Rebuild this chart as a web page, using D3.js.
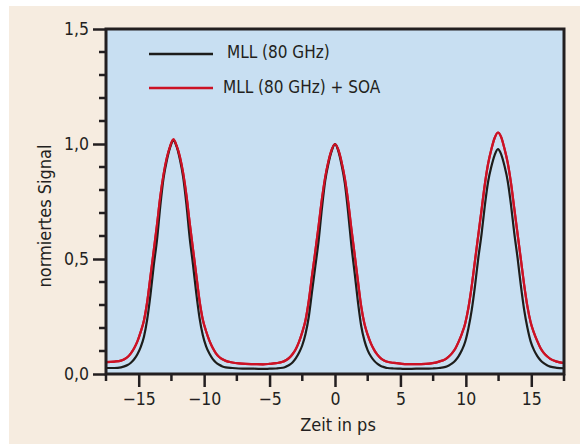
<!DOCTYPE html>
<html><head><meta charset="utf-8">
<script src="https://cdn.jsdelivr.net/npm/d3@7"></script>
<style>
html,body{margin:0;padding:0;background:#fff;}
svg text{font-family:"Liberation Sans Narrow","DejaVu Sans Condensed","Arial Narrow",sans-serif;fill:#231f20;}
</style></head>
<body>
<svg id="chart" width="580" height="444"></svg>
<script>
// ---- data ----
const seriesNames = ["MLL (80 GHz)", "MLL (80 GHz) + SOA"];
const xTicks = [-15, -10, -5, 0, 5, 10, 15];
const yTicks = [0, 0.5, 1.0, 1.5];
const yTickLabels = ["0,0", "0,5", "1,0", "1,5"];
const xLabel = "Zeit in ps";
const yLabel = "normiertes Signal";

const time = [
 -17.5,-16.85,-16.35,-16.1,-15.85,-15.6,-15.35,-15.1,-14.85,-14.6,-14.35,-14.1,-13.85,-13.6,-13.35,-13.1,-12.85,-12.6,-12.35,-12.1,-11.85,-11.6,-11.35,-11.1,-10.85,-10.6,-10.35,-10.1,-9.85,-9.6,-9.35,-9.1,-8.85,-8.6,-8.35,-7.85,-7.35,-6.85,
 -6.2,
 -5.5,-5,-4.5,-4,-3.75,-3.5,-3.25,-3,-2.75,-2.5,-2.25,-2,-1.75,-1.5,-1.25,-1,-0.75,-0.5,-0.25,0,0.25,0.5,0.75,1,1.25,1.5,1.75,2,2.25,2.5,2.75,3,3.25,3.5,3.75,4,4.5,5,5.5,
 6.2,
 6.95,7.45,7.95,8.45,8.7,8.95,9.2,9.45,9.7,9.95,10.2,10.45,10.7,10.95,11.2,11.45,11.7,11.95,12.2,12.45,12.7,12.95,13.2,13.45,13.7,13.95,14.2,14.45,14.7,14.95,15.2,15.45,15.7,15.95,16.2,16.45,16.95,17.5
];
const mll = [
 .026,.026,.029,.033,.039,.049,.064,.086,.117,.162,.238,.345,.472,.584,.731,.853,.929,.985,1.015,.988,.932,.855,.735,.59,.475,.35,.243,.168,.12,.089,.066,.05,.04,.033,.029,.026,.024,.023,
 .023,
 .022,.023,.024,.027,.032,.039,.05,.068,.092,.125,.175,.25,.36,.47,.58,.72,.84,.915,.97,1.0,.97,.91,.83,.705,.56,.44,.315,.21,.145,.103,.076,.057,.044,.035,.03,.026,.024,.023,.022,
 .023,
 .023,.024,.026,.031,.037,.046,.059,.078,.104,.14,.2,.279,.383,.504,.608,.732,.836,.902,.952,.978,.955,.905,.838,.735,.612,.506,.386,.281,.202,.142,.105,.079,.06,.047,.038,.032,.027,.025
];
const mllSoa = [
 .052,.054,.058,.064,.074,.09,.112,.142,.183,.233,.314,.425,.537,.65,.772,.868,.94,.99,1.02,.992,.944,.872,.775,.655,.542,.43,.318,.236,.186,.145,.114,.09,.074,.064,.057,.05,.046,.044,
 .043,
 .042,.044,.047,.053,.06,.07,.086,.108,.14,.182,.235,.32,.43,.535,.645,.76,.855,.925,.975,1.0,.975,.922,.85,.752,.632,.52,.405,.295,.218,.17,.132,.104,.083,.068,.059,.053,.048,.045,.043,
 .043,
 .044,.047,.054,.065,.076,.091,.111,.141,.176,.22,.289,.383,.494,.604,.714,.824,.914,.977,1.026,1.05,1.03,.98,.918,.83,.72,.61,.5,.39,.295,.225,.18,.144,.113,.092,.077,.066,.054,.047
];

// ---- layout ----
const svg = d3.select("#chart");
const W = 580, H = 444;
const m = {left:106, right:564, top:29, bottom:374};

svg.append("rect").attr("x",9).attr("y",6).attr("width",W-9).attr("height",H-6).attr("fill","#f6ece0");
svg.append("rect").attr("x",m.left).attr("y",m.top).attr("width",m.right-m.left).attr("height",m.bottom-m.top).attr("fill","#c8dff2");

const x = d3.scaleLinear().domain([-17.5, 17.5]).range([m.left, m.right]);
const y = d3.scaleLinear().domain([0, 1.5]).range([m.bottom, m.top]);

const tickColor = "#231f20";

// minor ticks
const xMinor = d3.range(-17.5, 17.6, 5);
const yMinor = d3.range(0, 1.51, 0.1).filter(v => Math.abs(v*2 - Math.round(v*2)) > 1e-6);

const gx = svg.append("g").attr("transform",`translate(0,${m.bottom})`);
gx.selectAll("line.minor").data(xMinor).join("line")
  .attr("x1",d=>x(d)).attr("x2",d=>x(d)).attr("y1",0).attr("y2",7)
  .attr("stroke",tickColor).attr("stroke-width",2.5);
const xAxis = d3.axisBottom(x).tickValues(xTicks).tickSize(13).tickPadding(6)
  .tickFormat(d => d < 0 ? "\u2212" + Math.abs(d) : String(d));
const gxa = svg.append("g").attr("transform",`translate(0,${m.bottom})`).call(xAxis);
gxa.select(".domain").remove();
gxa.selectAll(".tick line").attr("stroke",tickColor).attr("stroke-width",2.5);
gxa.selectAll(".tick text").attr("font-size",17.5).attr("fill",tickColor)
  .attr("font-family",'"Liberation Sans Narrow","DejaVu Sans Condensed",sans-serif');

const gy = svg.append("g").attr("transform",`translate(${m.left},0)`);
gy.selectAll("line.minor").data(yMinor).join("line")
  .attr("y1",d=>y(d)).attr("y2",d=>y(d)).attr("x1",0).attr("x2",-7)
  .attr("stroke",tickColor).attr("stroke-width",2.5);
const yAxis = d3.axisLeft(y).tickValues(yTicks).tickSize(13).tickPadding(4)
  .tickFormat((d,i) => yTickLabels[i]);
const gya = svg.append("g").attr("transform",`translate(${m.left},0)`).call(yAxis);
gya.select(".domain").remove();
gya.selectAll(".tick line").attr("stroke",tickColor).attr("stroke-width",2.5);
gya.selectAll(".tick text").attr("font-size",17.5).attr("fill",tickColor)
  .attr("font-family",'"Liberation Sans Narrow","DejaVu Sans Condensed",sans-serif');

// lines
const pts = arr => time.map((t,i)=>[t, arr[i]]);
const line = d3.line().x(d=>x(d[0])).y(d=>y(d[1])).curve(d3.curveMonotoneX);
const colors = ["#1d1d1b", "#cc1225"];
svg.append("path").datum(pts(mllSoa)).attr("d",line).attr("fill","none")
  .attr("stroke",colors[1]).attr("stroke-width",2.2).attr("stroke-linejoin","round");
svg.append("path").datum(pts(mll)).attr("d",line).attr("fill","none")
  .attr("stroke",colors[0]).attr("stroke-width",2.2).attr("stroke-linejoin","round");
// red on top near peaks looks like reference; redraw red over black
svg.append("path").datum(pts(mllSoa)).attr("d",line).attr("fill","none")
  .attr("stroke",colors[1]).attr("stroke-width",2.2).attr("stroke-linejoin","round");

// frame
svg.append("rect").attr("x",m.left).attr("y",m.top).attr("width",m.right-m.left).attr("height",m.bottom-m.top)
  .attr("fill","none").attr("stroke",tickColor).attr("stroke-width",3);

// legend
const leg = [{y:54, ty:58, tx:227}, {y:88, ty:93, tx:223}];
leg.forEach((l,i)=>{
  svg.append("line").attr("x1",149).attr("x2",213).attr("y1",l.y).attr("y2",l.y)
    .attr("stroke",colors[i]).attr("stroke-width",2.5);
  svg.append("text").attr("x",l.tx).attr("y",l.ty).attr("font-size",17).text(seriesNames[i]);
});

// axis titles
svg.append("text").attr("x",338).attr("y",431).attr("text-anchor","middle").attr("font-size",18).text(xLabel);
svg.append("text").attr("transform","translate(51,216) rotate(-90)").attr("text-anchor","middle")
  .attr("font-size",18).text(yLabel);
</script>
</body></html>
